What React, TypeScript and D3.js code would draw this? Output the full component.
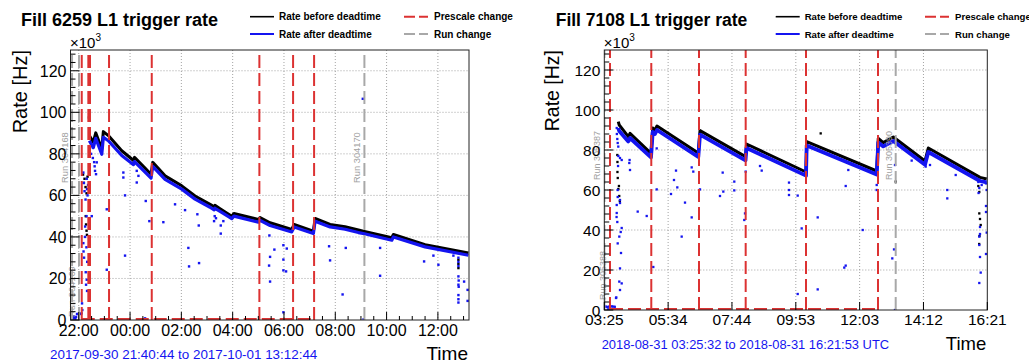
import React from "react";
import * as d3 from "d3";

// ---------------- DATA (hours of day; >24 = next day) ----------------
const yTicks = [0, 20, 40, 60, 80, 100, 120];

// Left: Fill 6259
const leftTitle = "Fill 6259 L1 trigger rate";
const leftDateText = "2017-09-30 21:40:44 to 2017-10-01 13:12:44";
const leftTimeRange = [21 + 40 / 60 + 44 / 3600, 37 + 12 / 60 + 44 / 3600];
const leftXTickHours = [22, 24, 26, 28, 30, 32, 34, 36];
const leftXTickLabels = ["22:00", "00:00", "02:00", "04:00", "06:00", "08:00", "10:00", "12:00"];
const leftPrescale = [22.117, 22.374, 22.44, 23.181, 24.846, 29.041, 30.355, 31.174];
const leftRunChange = [21.739, 22.01, 33.135];
const leftRunLabels = ["Run 304168", "Run 304169", "Run 304170"];

const leftBlackBand = [
  [22.413, 88.8], [22.569, 85.6], [22.663, 90.1], [22.897, 82.3], [22.959, 90.7], [23.154, 88.8],
  [23.676, 81.5], [24.137, 76.8], [24.175, 78.3], [24.819, 70.2], [24.885, 75.9], [25.365, 69.4],
  [26.016, 64.6], [26.534, 59.7], [27.119, 55.7], [27.28, 54.5], [27.31, 55.2], [27.509, 53.6],
  [27.965, 50.0], [28.05, 51.3], [29.002, 48.4], [29.068, 49.3], [29.458, 46.8], [30.304, 43.6],
  [30.394, 46.0], [31.146, 42.8], [31.213, 48.9], [31.797, 46.0], [32.382, 44.9], [32.901, 43.3],
  [33.135, 42.6], [34.203, 39.6], [34.265, 41.2], [35.501, 36.3], [37.189, 32.3],
];
const leftBlueBand = [
  [22.413, 86.3], [22.569, 83.0], [22.663, 87.5], [22.897, 79.8], [22.959, 88.0], [23.154, 86.3],
  [23.676, 79.2], [24.137, 74.8], [24.175, 76.3], [24.819, 68.3], [24.885, 74.0], [25.365, 67.7],
  [26.016, 63.0], [26.534, 58.2], [27.119, 54.3], [27.28, 53.0], [27.31, 53.8], [27.509, 52.3],
  [27.965, 48.8], [28.05, 50.0], [29.002, 47.1], [29.068, 48.0], [29.458, 45.5], [30.304, 42.4],
  [30.394, 44.8], [31.146, 41.6], [31.213, 47.6], [31.797, 44.8], [32.382, 43.7], [32.901, 42.1],
  [33.135, 41.5], [34.203, 38.4], [34.265, 40.0], [35.501, 35.2], [37.189, 31.2],
];
const leftBlackDots = [
  [22.168, 70], [22.226, 68], [22.265, 64], [22.304, 61], [22.343, 69], [22.2, 66], [22.273, 50],
  [22.285, 46], [22.304, 43], [22.32, 41], [22.413, 98.8], [22.4, 97.5], [36.799, 29], [36.799, 27], [36.8, 25],
];
const leftBlueDots = [
  [21.719, 1.2], [21.778, 0.8], [21.836, 1.0], [21.895, 1.5], [21.934, 2.9], [21.992, 2.9], [22.051, 2.9],
  [22.109, 3.2], [21.75, 0.5], [21.8, 1.8], [21.87, 0.6],
  [22.129, 8], [22.14, 4.8], [22.179, 37], [22.187, 33], [22.207, 30], [22.246, 40], [22.304, 50],
  [22.273, 23], [22.285, 17], [22.312, 19.4], [22.324, 14], [22.179, 71], [22.199, 66], [22.226, 62],
  [22.265, 58], [22.312, 68], [22.324, 63], [22.363, 65], [22.343, 60], [22.421, 92], [22.441, 83],
  [22.48, 80], [22.3, 35], [22.25, 45], [22.33, 28], [22.55, 78], [22.6, 76], [22.62, 74],
  [22.635, 71.8], [22.674, 70.2], [22.702, 75.9], [22.507, 50.0], [23.092, 53.3], [23.739, 71.0],
  [23.739, 68.6], [23.805, 60.0], [24.261, 66.2], [24.612, 57.3], [24.752, 47.6], [23.805, 31.0],
  [23.092, 24.2], [24.585, 0.8], [25.298, 47.1], [25.754, 55.7], [26.144, 52.9], [26.273, 34.7],
  [26.3, 25.8], [26.69, 27.4], [26.678, 45.5], [26.624, 50.9], [27.275, 47.6], [27.536, 45.5],
  [27.536, 41.6], [27.637, 47.6], [29.431, 40.7], [29.626, 33.9], [29.458, 30.4], [29.419, 26.2],
  [29.458, 18.5], [29.977, 36.0], [30.109, 34.4], [29.977, 29.1], [29.977, 23.9], [30.082, 23.4],
  [29.977, 3.7], [31.758, 35.5], [31.797, 28.7], [32.285, 12.3], [32.409, 34.7], [33.103, 0.3],
  [33.747, 34.7], [33.747, 21.3], [35.462, 28.2], [35.825, 31.0], [36.02, 26.6], [36.604, 31.0],
  [36.799, 30], [36.799, 28], [36.8, 26], [36.8, 21], [36.81, 19], [36.8, 17], [36.81, 16], [36.8, 12],
  [36.8, 10], [36.8, 8.4], [37.021, 18.5], [37.158, 14.5], [37.158, 9.2], [33.072, 106.5],
  [24.261, 71.8], [24.327, 69.4], [27.3, 50.0], [27.35, 49.0],
];

// Right: Fill 7108
const rightTitle = "Fill 7108 L1 trigger rate";
const rightDateText = "2018-08-31 03:25:32 to 2018-08-31 16:21:53 UTC";
const rightTimeRange = [3 + 25 / 60 + 32 / 3600, 16 + 21 / 60 + 53 / 3600];
const rightXTickLabels = ["03:25", "05:34", "07:44", "09:53", "12:03", "14:12", "16:21"];
const rightPrescale = [3.618, 5.013, 6.625, 8.202, 10.239, 12.672];
const rightRunChange = [3.43, 3.618, 13.27];
const rightRunLabels = ["Run 305387", "Run 305388", "Run 305390"];

const rightBlackBand = [
  [3.898, 94.2], [3.93, 92.5], [4.236, 86.7], [4.294, 88.3], [5.003, 78.3], [5.061, 91.0], [5.138, 90.0],
  [5.206, 92.0], [6.601, 78.5], [6.659, 89.7], [8.196, 76.7], [8.23, 83.0], [10.24, 69.0], [10.263, 84.2],
  [12.628, 69.5], [12.682, 85.8], [12.851, 83.7], [13.189, 86.5], [14.26, 74.5], [14.371, 81.0],
  [16.118, 66.3], [16.344, 65.5],
];
const rightBlueBand = [
  [3.898, 91.0], [3.93, 89.5], [4.236, 84.3], [4.294, 86.0], [5.003, 76.3], [5.061, 89.0], [5.138, 88.0],
  [5.206, 90.0], [6.601, 76.6], [6.659, 87.7], [8.196, 74.8], [8.23, 81.0], [10.24, 67.2], [10.263, 82.3],
  [12.628, 67.7], [12.682, 83.8], [12.851, 81.8], [13.189, 84.5], [14.26, 72.6], [14.371, 79.0],
  [16.118, 64.5], [16.344, 63.8],
];
const rightBlackDots = [
  [3.87, 69], [3.88, 66], [3.9, 60.5], [3.93, 57], [3.95, 54.5], [3.92, 62], [3.865, 77.5], [3.87, 74],
  [10.736, 88.3], [13.27, 64.2], [16.061, 62], [16.094, 59], [16.094, 48.3], [16.118, 45.5],
  [16.142, 42.5], [16.1, 37], [16.09, 33],
];
const rightBlueDots = [
  [3.43, 1.7], [3.48, 1.7], [3.53, 1.5], [3.58, 1.7], [3.63, 1.8], [3.68, 1.8], [3.73, 1.7], [3.78, 1.6],
  [3.55, 0.3], [3.6, 0.2], [3.65, 0.4], [3.821, 6.0],
  [3.845, 91], [3.85, 88], [3.865, 85.5], [3.878, 83.5], [3.898, 81.7], [3.9, 77], [3.89, 72], [3.956, 76],
  [4.013, 75], [3.878, 60], [3.878, 56.5], [3.845, 52.5], [3.845, 48.5], [3.84, 46.5], [3.956, 55],
  [3.956, 53.5], [3.98, 39], [4.013, 41], [3.878, 33.3], [3.932, 36.7], [3.865, 44], [3.99, 28.5],
  [3.956, 20.8], [3.932, 14.2], [4.013, 13.3], [3.956, 10], [3.83, 6.3],
  [4.554, 49.2], [4.858, 47], [4.294, 70], [4.27, 73.5], [4.28, 75], [5.196, 80.8], [5.196, 60.3],
  [5.081, 21.5], [5.848, 69.7], [5.78, 65], [5.892, 61.3], [5.679, 58], [6.152, 53.7], [6.378, 46.3],
  [6.04, 36.7], [6.378, 71.3], [6.432, 69.2], [6.659, 60.3], [7.334, 57], [7.446, 59.2], [7.425, 68.7],
  [7.817, 64.2], [7.817, 59.8], [8.179, 48.3], [8.155, 45], [8.202, 69.2], [8.686, 72], [8.743, 69.7],
  [9.665, 63.7], [9.665, 60], [9.665, 57.5], [9.959, 57.2], [10.094, 40.8], [9.959, 8], [10.635, 46.3],
  [10.635, 10.3], [11.581, 62], [11.533, 21.2], [11.581, 22.2], [11.669, 70], [12.155, 40], [12.628, 62.5],
  [12.628, 60], [13.246, 72.5], [13.213, 30.3], [13.155, 25.8], [13.246, 0], [13.81, 74.7], [14.283, 71.7],
  [14.429, 72.5], [15.013, 60], [15.013, 55.8], [15.297, 67.5],
  [16.061, 64], [16.094, 61], [16.07, 58.5], [16.118, 41.5], [16.118, 38], [16.094, 36.7], [16.094, 32.5],
  [16.118, 26.5], [16.142, 18.7], [16.094, 13.5], [16.321, 52], [16.321, 49], [16.344, 38.7], [16.321, 28],
  [16.175, 62.5], [16.321, 63.3], [16.344, 60],
];

// ---------------- STYLE ----------------
const FONT = "'Liberation Sans', Arial, Helvetica, sans-serif";
const BLUE = "#1414f0";
const RED = "#dc3232";
const GRAY = "#a8a8a8";

type Cfg = any;

function Panel({ c }: { c: Cfg }) {
  const x = d3.scaleLinear().domain(c.range).range([c.x0, c.x1]);
  const y = d3.scaleLinear().domain([0, 130]).range([c.y1, c.y0]);
  const line = d3.line<number[]>().x((d) => x(d[0])).y((d) => y(d[1]));
  const clipId = "clip-" + c.id;
  const minorY = d3.range(0, 130, 4).filter((v) => v % 20 !== 0);
  const dash = "13,5";
  const s = c.ms;
  return (
    <g>
      <defs>
        <clipPath id={clipId}>
          <rect x={c.x0} y={c.y0} width={c.x1 - c.x0} height={c.y1 - c.y0} />
        </clipPath>
      </defs>
      {/* grid */}
      {c.xTicks.map((t: number, i: number) =>
        x(t) > c.x0 + 1 && x(t) < c.x1 - 1 ? (
          <line key={"gx" + i} x1={x(t)} x2={x(t)} y1={c.y0} y2={c.y1} stroke="#8c8c8c" strokeWidth={0.8} strokeDasharray="1,2" />
        ) : null
      )}
      {yTicks.slice(1).map((v) => (
        <line key={"gy" + v} x1={c.x0} x2={c.x1} y1={y(v)} y2={y(v)} stroke="#8c8c8c" strokeWidth={0.8} strokeDasharray="1,2" />
      ))}
      {/* data */}
      <g clipPath={`url(#${clipId})`}>
        <path d={line(c.blackBand) || ""} fill="none" stroke="#000" strokeWidth={3} strokeLinejoin="round" />
        {c.blackDots.map((d: number[], i: number) => (
          <rect key={"bd" + i} x={x(d[0]) - s / 2} y={y(d[1]) - s / 2} width={s} height={s} fill="#000" />
        ))}
        <path d={line(c.blueBand) || ""} fill="none" stroke={BLUE} strokeWidth={c.blueW} strokeLinejoin="round" />
        {c.blueDots.map((d: number[], i: number) => (
          <rect key={"ud" + i} x={x(d[0]) - s / 2} y={y(d[1]) - s / 2} width={s} height={s} fill={BLUE} />
        ))}
        {c.run.map((t: number, i: number) => (
          <line key={"rc" + i} x1={x(t)} x2={x(t)} y1={y(0)} y2={y(130)} stroke={GRAY} strokeWidth={2} strokeDasharray={dash} />
        ))}
        {c.prescale.map((t: number, i: number) => (
          <line key={"pc" + i} x1={x(t)} x2={x(t)} y1={y(0)} y2={y(130)} stroke={RED} strokeWidth={2} strokeDasharray={dash} />
        ))}
        <line x1={x(c.prescale[0])} x2={x(c.prescale[c.prescale.length - 1])} y1={y(0) - 1} y2={y(0) - 1} stroke={RED} strokeWidth={2} strokeDasharray={dash} />
      </g>
      {/* run labels */}
      {c.run.map((t: number, i: number) => {
        const px = x(t) - 4;
        const py = y(i % 2 === 0 ? c.runUpper : c.runLower);
        return (
          <text key={"rl" + i} transform={`translate(${px},${py}) rotate(-90)`} fontFamily={FONT} fontSize={c.runFs} fill="#a0a0a0">
            {c.runLabels[i]}
          </text>
        );
      })}
      {/* frame */}
      <rect x={c.x0} y={c.y0} width={c.x1 - c.x0} height={c.y1 - c.y0} fill="none" stroke="#222" strokeWidth={1} />
      {/* y ticks */}
      {yTicks.map((v) => (
        <g key={"yt" + v}>
          <line x1={c.x0} x2={c.x0 + 9} y1={y(v)} y2={y(v)} stroke="#000" strokeWidth={1} />
          <text x={c.x0 - 4} y={y(v)} dy="0.36em" textAnchor="end" fontFamily={FONT} fontSize={c.tickFs} fill="#000">
            {v}
          </text>
        </g>
      ))}
      {minorY.map((v) => (
        <line key={"ym" + v} x1={c.x0} x2={c.x0 + 5} y1={y(v)} y2={y(v)} stroke="#000" strokeWidth={1} />
      ))}
      {/* x ticks */}
      {c.xTicks.map((t: number, i: number) => (
        <g key={"xt" + i}>
          <line x1={x(t)} x2={x(t)} y1={c.y1} y2={c.y1 - 8} stroke="#000" strokeWidth={1} />
          <text x={x(t)} y={c.xLabelY} textAnchor="middle" fontFamily={FONT} fontSize={c.tickFs} fill="#000">
            {c.xLabels[i]}
          </text>
        </g>
      ))}
      {c.minorX.map((t: number, i: number) => (
        <line key={"xm" + i} x1={x(t)} x2={x(t)} y1={c.y1} y2={c.y1 - 4} stroke="#000" strokeWidth={1} />
      ))}
      {/* exponent */}
      <text x={c.x0 - 0.5} y={48} fontFamily={FONT} fontSize={15} fill="#000">
        ×10<tspan dy={-7} fontSize={10}>3</tspan>
      </text>
      {/* axis titles */}
      <text transform={`translate(${c.yTitleX},${c.y0}) rotate(-90)`} textAnchor="end" fontFamily={FONT} fontSize={c.yTitleFs} fill="#000">
        Rate [Hz]
      </text>
      <text x={c.x1 - 1} y={c.timeY} textAnchor="end" fontFamily={FONT} fontSize={c.timeFs} fill="#000">
        Time
      </text>
      <text x={c.dateX} y={c.dateY} fontFamily={FONT} fontSize={c.dateFs} fill={BLUE}>
        {c.dateText}
      </text>
      {/* title */}
      <text x={c.titleX} y={26} fontFamily={FONT} fontWeight="bold" fontSize={c.titleFs} fill="#000">
        {c.title}
      </text>
      {/* legend */}
      <line x1={c.legX} x2={c.legX + 24} y1={16.7} y2={16.7} stroke="#000" strokeWidth={1.6} />
      <line x1={c.legX} x2={c.legX + 24} y1={34} y2={34} stroke={BLUE} strokeWidth={2} />
      <text x={c.legX + 29} y={20.4} fontFamily={FONT} fontWeight="bold" fontSize={c.legFs} fill="#000">Rate before deadtime</text>
      <text x={c.legX + 29} y={37.7} fontFamily={FONT} fontWeight="bold" fontSize={c.legFs} fill="#000">Rate after deadtime</text>
      <line x1={c.leg2X} x2={c.leg2X + 24} y1={16.7} y2={16.7} stroke={RED} strokeWidth={2} strokeDasharray="11,4" />
      <line x1={c.leg2X} x2={c.leg2X + 24} y1={34} y2={34} stroke={GRAY} strokeWidth={2} strokeDasharray="11,4" />
      <text x={c.leg2X + 30} y={20.4} fontFamily={FONT} fontWeight="bold" fontSize={c.legFs} fill="#000">Prescale change</text>
      <text x={c.leg2X + 30} y={37.7} fontFamily={FONT} fontWeight="bold" fontSize={c.legFs} fill="#000">Run change</text>
    </g>
  );
}

export default function App() {
  const rightTicks = rightXTickLabels.map(
    (_, i) => rightTimeRange[0] + (i * (rightTimeRange[1] - rightTimeRange[0])) / (rightXTickLabels.length - 1)
  );
  const left: Cfg = {
    id: "l", range: leftTimeRange, x0: 70.5, x1: 469, y0: 50, y1: 320,
    xTicks: leftXTickHours, xLabels: leftXTickLabels,
    minorX: d3.range(22, 37.3, 0.5).filter((t) => t % 2 !== 0 && t < leftTimeRange[1]),
    prescale: leftPrescale, run: leftRunChange, runLabels: leftRunLabels, runUpper: 66, runLower: 1.5, runFs: 9.3,
    blackBand: leftBlackBand, blueBand: leftBlueBand, blackDots: leftBlackDots, blueDots: leftBlueDots,
    blueW: 3.2, ms: 2.4, tickFs: 16, xLabelY: 335.5, yTitleX: 26.5, yTitleFs: 20, timeY: 360, timeFs: 19,
    dateX: 50, dateY: 358.5, dateFs: 13.4, dateText: leftDateText, titleX: 21, titleFs: 18, title: leftTitle,
    legX: 250, leg2X: 404, legFs: 10,
  };
  const right: Cfg = {
    id: "r", range: rightTimeRange, x0: 604.3, x1: 987.3, y0: 50, y1: 310,
    xTicks: rightTicks, xLabels: rightXTickLabels, minorX: [],
    prescale: rightPrescale, run: rightRunChange, runLabels: rightRunLabels, runUpper: 65, runLower: 5, runFs: 9,
    blackBand: rightBlackBand, blueBand: rightBlueBand, blackDots: rightBlackDots, blueDots: rightBlueDots,
    blueW: 3.8, ms: 2.3, tickFs: 15.5, xLabelY: 324.5, yTitleX: 559, yTitleFs: 19.5, timeY: 349.5, timeFs: 18.5,
    dateX: 601.7, dateY: 348.5, dateFs: 12.9, dateText: rightDateText, titleX: 555.7, titleFs: 17.5, title: rightTitle,
    legX: 775.7, leg2X: 925, legFs: 9.6,
  };
  return (
    <svg width={1029} height={363} style={{ position: "absolute", left: 0, top: 0, background: "#fff" }}>
      <rect x={0} y={0} width={1029} height={363} fill="#fff" />
      <Panel c={left} />
      <Panel c={right} />
    </svg>
  );
}
